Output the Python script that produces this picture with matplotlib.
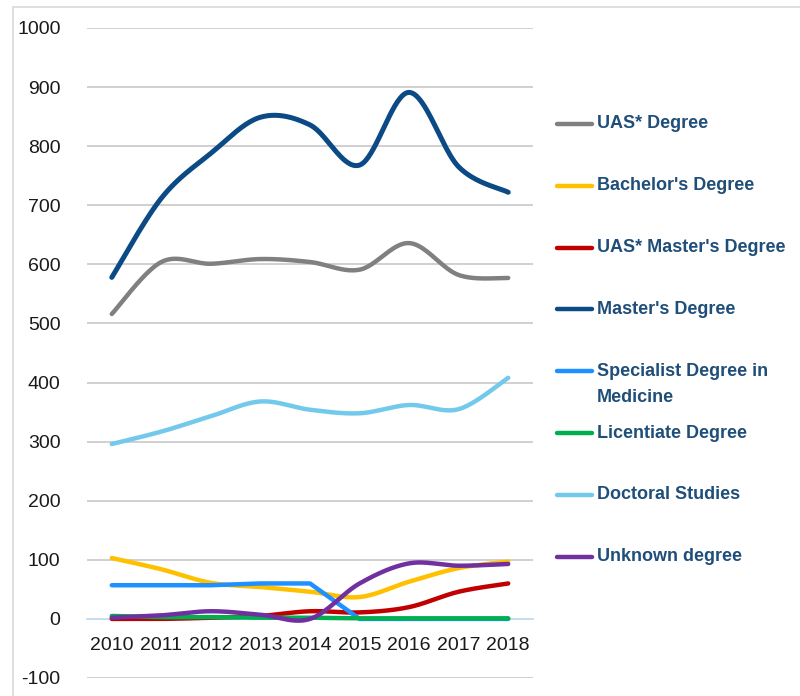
import numpy as np
import matplotlib
matplotlib.use("Agg")
import matplotlib.pyplot as plt
from matplotlib.lines import Line2D
from matplotlib.patches import Rectangle

years = [2010, 2011, 2012, 2013, 2014, 2015, 2016, 2017, 2018]

uas_degree = [516, 604, 601, 609, 604, 591, 636, 582, 577]
bachelor = [103, 84, 61, 54, 46, 37, 63, 86, 97]
uas_master = [0, 0, 2, 5, 13, 11, 20, 46, 60]
master = [578, 712, 788, 849, 836, 768, 891, 765, 722]
specialist = [57, 57, 57, 60, 60, 0, 0, 0, 0]
licentiate = [5, 3, 3, 2, 2, 1, 1, 1, 1]
doctoral = [296, 317, 343, 368, 354, 348, 362, 355, 408]
unknown = [2, 6, 13, 7, 0, 60, 94, 90, 93]

labels = ["UAS* Degree", "Bachelor's Degree", "UAS* Master's Degree",
          "Master's Degree", "Specialist Degree in\nMedicine",
          "Licentiate Degree", "Doctoral Studies", "Unknown degree"]
series = [uas_degree, bachelor, uas_master, master, specialist,
          licentiate, doctoral, unknown]
colors = ["#808080", "#FFC000", "#C00000", "#0B4A85", "#1E90FF",
          "#00B050", "#72C9EC", "#7030A0"]
widths = [3.2, 3.2, 3.2, 3.6, 3.2, 3.2, 3.2, 3.2]

y_ticks = [-100, 0, 100, 200, 300, 400, 500, 600, 700, 800, 900, 1000]


def smooth(xs, ys, n=40):
    """Excel-like smoothing: Catmull-Rom spline in cubic Bezier form."""
    xs = np.asarray(xs, float)
    ys = np.asarray(ys, float)
    px = np.concatenate([[xs[0]], xs, [xs[-1]]])
    py = np.concatenate([[ys[0]], ys, [ys[-1]]])
    ox, oy = [], []
    t = np.linspace(0, 1, n)
    for i in range(1, len(px) - 2):
        p0x, p0y = px[i], py[i]
        p3x, p3y = px[i + 1], py[i + 1]
        c1x = p0x + (px[i + 1] - px[i - 1]) / 6
        c1y = p0y + (py[i + 1] - py[i - 1]) / 6
        c2x = p3x - (px[i + 2] - px[i]) / 6
        c2y = p3y - (py[i + 2] - py[i]) / 6
        bx = ((1 - t) ** 3 * p0x + 3 * (1 - t) ** 2 * t * c1x
              + 3 * (1 - t) * t ** 2 * c2x + t ** 3 * p3x)
        by = ((1 - t) ** 3 * p0y + 3 * (1 - t) ** 2 * t * c1y
              + 3 * (1 - t) * t ** 2 * c2y + t ** 3 * p3y)
        ox.extend(bx)
        oy.extend(by)
    return np.array(ox), np.array(oy)


plt.rcParams['font.family'] = ['Liberation Sans', 'DejaVu Sans']

fig = plt.figure(figsize=(8, 6.96), dpi=100)
W, H = 800, 696

# outer chart border (left and top visible)
fig.patches.append(Rectangle((13 / W, -0.05), 1.2, (1 - 6.5 / H) + 0.05,
                             transform=fig.transFigure, fill=False,
                             edgecolor="#D9D9D9", linewidth=1.2))

ax = fig.add_axes([87 / W, 1 - 678 / H, (533 - 87) / W, (678 - 28) / H])
ax.set_xlim(2009.5, 2018.5)
ax.set_ylim(-100, 1000)

for yv in y_ticks:
    if yv != 0:
        ax.axhline(yv, color="#C8C8C8", linewidth=1.2, zorder=0)

for s in ["top", "right", "left"]:
    ax.spines[s].set_visible(False)
ax.spines["bottom"].set_position(("data", 0))
ax.spines["bottom"].set_color("#BDD7EE")
ax.spines["bottom"].set_linewidth(1.2)

ax.set_yticks(y_ticks)
ax.set_yticklabels([str(v) for v in y_ticks])
ax.set_xticks(years)
ax.set_xticklabels([str(y) for y in years])
ax.tick_params(axis="y", length=0, pad=19, labelsize=14, labelcolor="#1A1A1A")
ax.tick_params(axis="x", length=0, pad=13, labelsize=14, labelcolor="#1A1A1A")

for ys, c, lw in zip(series, colors, widths):
    if ys is specialist:
        ax.plot(years, ys, color=c, linewidth=lw, solid_capstyle="round",
                solid_joinstyle="round", zorder=3)
    else:
        sx, sy = smooth(years, ys)
        ax.plot(sx, sy, color=c, linewidth=lw, solid_capstyle="round",
                solid_joinstyle="round", zorder=3)

# legend (manual, Excel style)
text_color = "#1F4E79"
y0 = 124
step = 61.8
for i, (lab, c, lw) in enumerate(zip(labels, colors, widths)):
    yp = y0 + step * i
    fy = 1 - yp / H
    fig.add_artist(Line2D([557 / W, 592 / W], [fy, fy], color=c,
                          linewidth=3.2, solid_capstyle="round",
                          transform=fig.transFigure))
    lines = lab.split("\n")
    for j, ln in enumerate(lines):
        fig.text(597 / W, 1 - (yp + 26 * j) / H, ln, color=text_color,
                 fontsize=13, fontweight="bold", va="center", ha="left")

fig.savefig("out.png", dpi=100)
